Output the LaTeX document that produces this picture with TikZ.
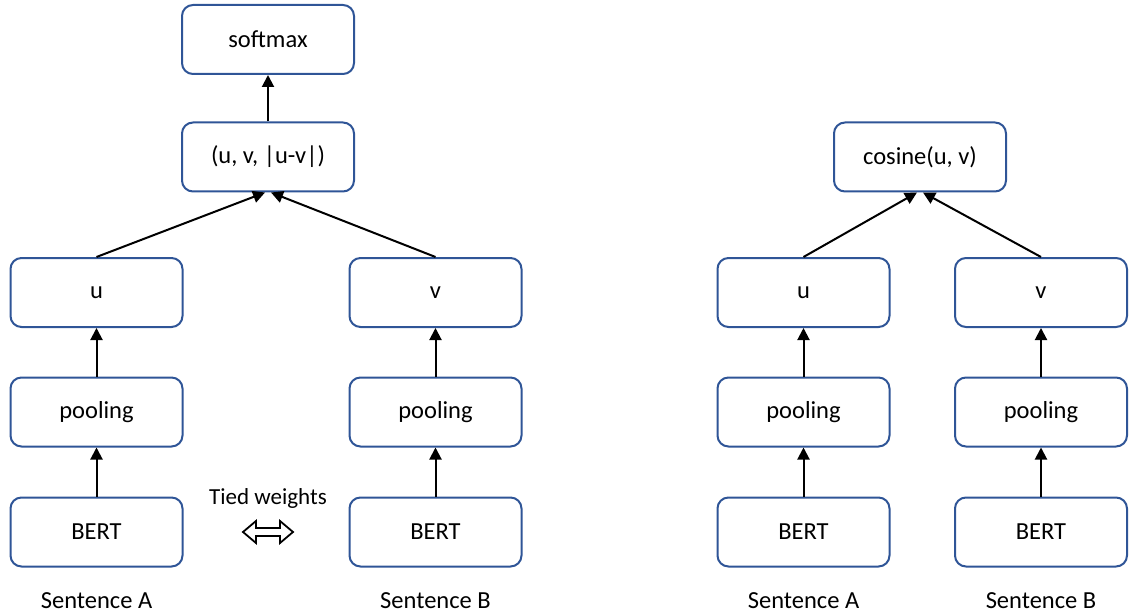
\documentclass[tikz,border=0pt]{standalone}
\usepackage{fontspec}
\setmainfont{Carlito}
\usetikzlibrary{arrows.meta}
\definecolor{boxblue}{HTML}{2F5597}
\begin{document}
\begin{tikzpicture}[x=1pt,y=-1pt,
  box/.style={draw=boxblue, line width=2pt, rounded corners=11pt,
    minimum width=172pt, minimum height=69pt, inner sep=0pt,
    font=\fontsize{24.5}{29}\selectfont},
  lbl/.style={inner sep=0pt, font=\fontsize{24.5}{29}\selectfont},
  arr/.style={line width=2pt, -{Triangle[length=12pt,width=12pt]}}]
\useasboundingbox (0,0) rectangle (1133,615);
% left diagram
\node[box] (soft) at (268,39.5) {softmax};
\node[box] (comb) at (268,157) {(u, v, |u-v|)};
\node[box] (uA) at (96.5,292.5) {u};
\node[box] (vB) at (435.5,292.5) {v};
\node[box] (pA) at (96.5,412) {pooling};
\node[box] (pB) at (435.5,412) {pooling};
\node[box] (bA) at (96.5,532) {BERT};
\node[box] (bB) at (435.5,532) {BERT};
\node[lbl] (sA) at (96.5,601) {Sentence A};
\node[lbl] (sB) at (435.5,601) {Sentence B};
\node[lbl, font=\fontsize{23}{27}\selectfont] (tied) at (268,498) {Tied weights};
\draw[line width=1.8pt, line join=miter] (243,532) -- (256,521) -- (256,528) -- (280,528) -- (280,521) -- (293,532) -- (280,543) -- (280,536) -- (256,536) -- (256,543) -- cycle;
\draw[arr] (bA) -- (pA);
\draw[arr] (pA) -- (uA);
\draw[arr] (bB) -- (pB);
\draw[arr] (pB) -- (vB);
\draw[arr] (uA.north) -- ([xshift=-3pt]comb.south);
\draw[arr] (vB.north) -- ([xshift=3pt]comb.south);
\draw[arr] (comb) -- (soft);
% right diagram
\node[box] (cos) at (920,157) {cosine(u, v)};
\node[box] (uR) at (803.5,292.5) {u};
\node[box] (vR) at (1041,292.5) {v};
\node[box] (pRA) at (803.5,412) {pooling};
\node[box] (pRB) at (1041,412) {pooling};
\node[box] (bRA) at (803.5,532) {BERT};
\node[box] (bRB) at (1041,532) {BERT};
\node[lbl] (sRA) at (803.5,601) {Sentence A};
\node[lbl] (sRB) at (1041,601) {Sentence B};
\draw[arr] (bRA) -- (pRA);
\draw[arr] (pRA) -- (uR);
\draw[arr] (bRB) -- (pRB);
\draw[arr] (pRB) -- (vR);
\draw[arr] (uR.north) -- ([xshift=-3pt]cos.south);
\draw[arr] (vR.north) -- ([xshift=3pt]cos.south);
\end{tikzpicture}
\end{document}
